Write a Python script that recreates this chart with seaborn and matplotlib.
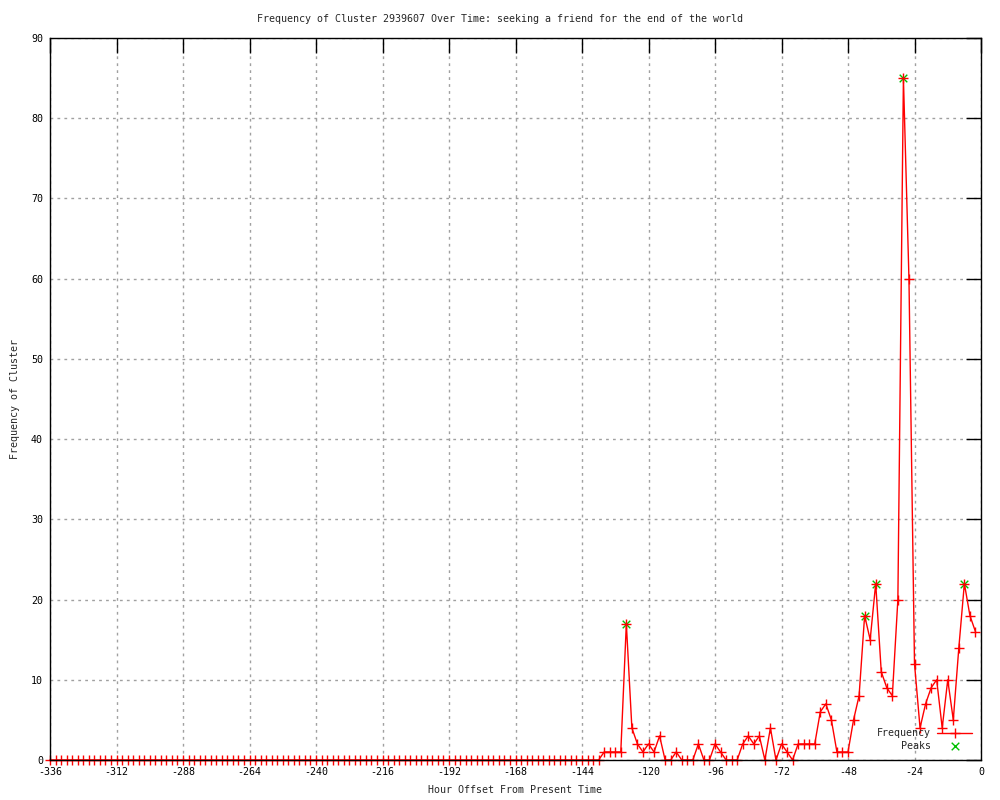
import matplotlib
matplotlib.use("Agg")
import matplotlib.pyplot as plt
import seaborn as sns
import pandas as pd

# Data: frequency per 2-hour bin, hour offsets from -336 to -2
hours = list(range(-336, 0, 2))
counts = [
    # -336 .. -138 (100 bins, all zero)
    0, 0, 0, 0, 0, 0, 0, 0, 0, 0,
    0, 0, 0, 0, 0, 0, 0, 0, 0, 0,
    0, 0, 0, 0, 0, 0, 0, 0, 0, 0,
    0, 0, 0, 0, 0, 0, 0, 0, 0, 0,
    0, 0, 0, 0, 0, 0, 0, 0, 0, 0,
    0, 0, 0, 0, 0, 0, 0, 0, 0, 0,
    0, 0, 0, 0, 0, 0, 0, 0, 0, 0,
    0, 0, 0, 0, 0, 0, 0, 0, 0, 0,
    0, 0, 0, 0, 0, 0, 0, 0, 0, 0,
    0, 0, 0, 0, 0, 0, 0, 0, 0, 0,
    # -136 .. -2
    1, 1, 1, 1, 17, 4, 2, 1, 2, 1,
    3, 0, 0, 1, 0, 0, 0, 2, 0, 0,
    2, 1, 0, 0, 0, 2, 3, 2, 3, 0,
    4, 0, 2, 1, 0, 2, 2, 2, 2, 6,
    7, 5, 1, 1, 1, 5, 8, 18, 15, 22,
    11, 9, 8, 20, 85, 60, 12, 4, 7, 9,
    10, 4, 10, 5, 14, 22, 18, 16,
]
peak_hours = [-128, -42, -38, -28, -6]
peak_counts = [17, 18, 22, 85, 22]

title = "Frequency of Cluster 2939607 Over Time: seeking a friend for the end of the world"
xlabel = "Hour Offset From Present Time"
ylabel = "Frequency of Cluster"
xticks = list(range(-336, 1, 24))
yticks = list(range(0, 91, 10))

df = pd.DataFrame({"hour": hours, "count": counts})
pk = pd.DataFrame({"hour": peak_hours, "count": peak_counts})

sns.set_theme(style="white")
plt.rcParams["font.family"] = ["DejaVu Sans Mono", "DejaVu Sans"]
plt.rcParams["axes.unicode_minus"] = False

FS = 7.2

fig = plt.figure(figsize=(10, 8), dpi=100)
ax = fig.add_axes([0.05, 0.05, 0.931, 0.9025])

sns.scatterplot(data=pk, x="hour", y="count", marker="x", color="#00c000",
                s=30, linewidth=1, ax=ax, label="Peaks", zorder=2)
sns.lineplot(data=df, x="hour", y="count", color="red", marker="+",
             markersize=7, markeredgewidth=1, markeredgecolor="red",
             linewidth=1, ax=ax, label="Frequency", zorder=3, clip_on=False)

ax.set_xlim(-336, 0)
ax.set_ylim(0, 90)
ax.set_xticks(xticks)
ax.set_yticks(yticks)
ax.grid(True, color="#a0a0a0", linestyle=(0, (2, 3)), linewidth=1)
ax.tick_params(direction="in", length=11, width=1, top=True, right=True,
               labelsize=FS, colors="black", pad=5)
for s in ax.spines.values():
    s.set_color("black")
    s.set_linewidth(1)
    s.set_zorder(4)

ax.set_xlabel(xlabel, fontsize=FS, labelpad=6)
ax.set_ylabel(ylabel, fontsize=FS, labelpad=8)
fig.suptitle(title, fontsize=FS, y=0.982)

handles, labels = ax.get_legend_handles_labels()
order = [labels.index("Frequency"), labels.index("Peaks")]
leg = ax.legend([handles[i] for i in order], [labels[i] for i in order],
                loc="lower right", frameon=False, markerfirst=False,
                fontsize=FS, handlelength=3.5, handletextpad=0.6,
                labelspacing=0.25, bbox_to_anchor=(1.0, 0.0))

fig.savefig("out.png", dpi=100)
